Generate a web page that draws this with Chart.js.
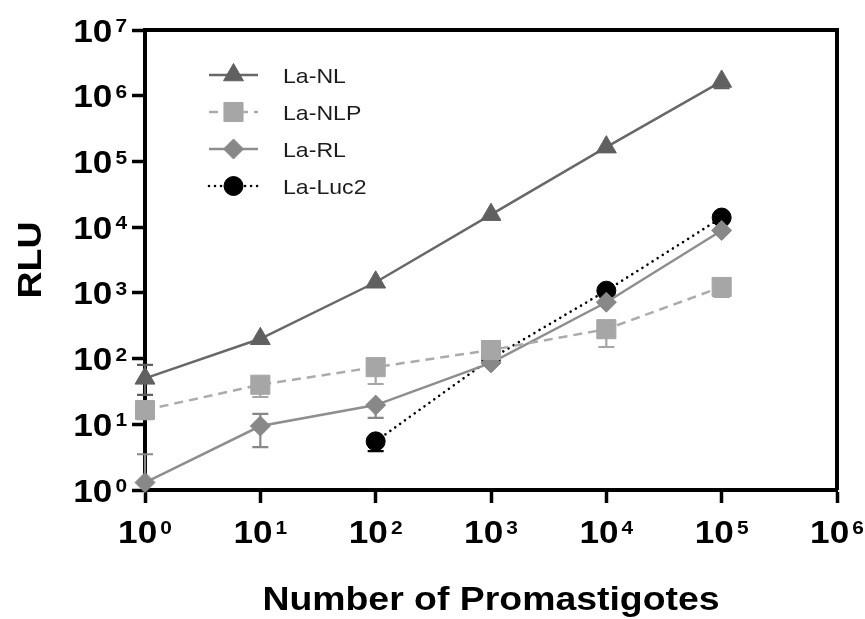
<!DOCTYPE html>
<html>
<head>
<meta charset="utf-8">
<script src="https://cdn.jsdelivr.net/npm/chart.js@4/dist/chart.umd.min.js"></script>
<style>
  html, body { margin: 0; padding: 0; background: #fff; }
  #wrap { width: 865px; height: 619px; position: relative; }
</style>
</head>
<body>
<div id="wrap"><canvas id="c"></canvas></div>
<script>
// promastigote counts on the x axis
const cellCounts = [1, 10, 100, 1000, 10000, 100000];
// mean RLU per series
const nlValues = [50, 200, 1450, 15500, 165000, 1650000];
const nlpValues = [16.5, 40, 74, 135, 280, 1230];
const rlValues = [1.3, 9.4, 19.6, 86, 720, 8900];
const luc2Values = [null, null, 5.5, 100, 1080, 14000];
// visible error bar ends [low, high]
const nlErr = [[28, 80], null, null, null, null, [1300000, null]];
const nlpErr = [[12, 22], [26, null], [41, null], null, [150, null], [870, null]];
const rlErr = [[null, 3.5], [4.5, 14.4], [12.5, null], null, null, null];
const luc2Err = [null, null, [3.9, null], null, null, null];
// tick exponents
const xTickPowers = [0, 1, 2, 3, 4, 5, 6];
const yTickPowers = [0, 1, 2, 3, 4, 5, 6, 7];
const seriesNames = ['La-NL', 'La-NLP', 'La-RL', 'La-Luc2'];

const FONT = '"Liberation Sans", Arial, sans-serif';
const STRETCH = 1.1;

function pts(vals) {
    return cellCounts.map((c, i) => ({ x: c, y: vals[i] }));
}

function stretchedText(ctx, text, x, y, font, align) {
    ctx.save();
    ctx.font = font;
    const w = ctx.measureText(text).width * STRETCH;
    let left = x;
    if (align === 'center') left = x - w / 2;
    if (align === 'right') left = x - w;
    ctx.translate(left, y);
    ctx.scale(STRETCH, 1);
    ctx.textAlign = 'left';
    ctx.fillText(text, 0, 0);
    ctx.restore();
    return w;
}

// "10" with a raised exponent; y is the baseline of the digits
function powerLabel(ctx, exp, x, y, align) {
    const baseFont = 'bold 32px ' + FONT;
    const expFont = 'bold 19px ' + FONT;
    ctx.font = baseFont;
    const wb = ctx.measureText('10').width * STRETCH;
    ctx.font = expFont;
    const we = ctx.measureText(String(exp)).width * STRETCH;
    const total = wb + 3 + we;
    let left = align === 'right' ? x - total : x - total / 2;
    stretchedText(ctx, '10', left, y, baseFont, 'left');
    stretchedText(ctx, String(exp), left + wb + 3, y - 23 + 13.6, expFont, 'left');
}

const errorBars = {
    id: 'errorBars',
    beforeDatasetsDraw(chart) {
        const { ctx, chartArea, scales: { x, y } } = chart;
        ctx.save();
        ctx.beginPath();
        ctx.rect(chartArea.left - 10, chartArea.top, chartArea.right - chartArea.left + 20, chartArea.bottom - chartArea.top);
        ctx.clip();
        chart.data.datasets.forEach(ds => {
            if (!ds.errors) return;
            ctx.strokeStyle = ds.pointBackgroundColor;
            ctx.lineWidth = 2.2;
            ds.errors.forEach((e, j) => {
                if (!e || ds.data[j].y === null) return;
                const px = x.getPixelForValue(ds.data[j].x);
                const py = y.getPixelForValue(ds.data[j].y);
                e.forEach(v => {
                    if (v === null) return;
                    const pe = y.getPixelForValue(v);
                    ctx.beginPath();
                    ctx.moveTo(px, py);
                    ctx.lineTo(px, pe);
                    ctx.moveTo(px - 8, pe);
                    ctx.lineTo(px + 8, pe);
                    ctx.stroke();
                });
            });
        });
        ctx.restore();
    }
};

const frame = {
    id: 'frame',
    beforeDatasetsDraw(chart) {
        const { ctx, chartArea: a } = chart;
        ctx.save();
        ctx.strokeStyle = '#000';
        ctx.lineWidth = 4;
        ctx.beginPath();
        ctx.moveTo(a.left, a.top);
        ctx.lineTo(a.right, a.top);
        ctx.lineTo(a.right, a.bottom);
        ctx.stroke();
        ctx.restore();
    }
};

const labels = {
    id: 'labels',
    afterDraw(chart) {
        const { ctx, chartArea: a, scales: { x, y } } = chart;
        ctx.save();
        ctx.fillStyle = '#000';
        ctx.textBaseline = 'alphabetic';
        yTickPowers.forEach(p => {
            const py = y.getPixelForValue(Math.pow(10, p));
            powerLabel(ctx, p, 127, py + 11.5, 'right');
        });
        xTickPowers.forEach(p => {
            const px = x.getPixelForValue(Math.pow(10, p));
            powerLabel(ctx, p, px, 543, 'center');
        });
        // axis titles
        stretchedText(ctx, 'Number of Promastigotes', (a.left + a.right) / 2, 610, 'bold 34px ' + FONT, 'center');
        ctx.save();
        ctx.translate(41, 260);
        ctx.rotate(-Math.PI / 2);
        stretchedText(ctx, 'RLU', 0, 0, 'bold 34px ' + FONT, 'center');
        ctx.restore();

        // legend
        const rowY = [75, 112, 149, 186];
        chart.data.datasets.forEach((ds, i) => {
            const ly = rowY[i];
            ctx.save();
            ctx.strokeStyle = ds.borderColor;
            ctx.lineWidth = ds.borderWidth;
            ctx.lineCap = ds.borderCapStyle || 'butt';
            ctx.setLineDash(ds.borderDash || []);
            ctx.beginPath();
            ctx.moveTo(209, ly);
            ctx.lineTo(258, ly);
            ctx.stroke();
            ctx.restore();
            ctx.save();
            ctx.fillStyle = ds.pointBackgroundColor;
            ctx.strokeStyle = ds.pointBackgroundColor;
            ctx.lineWidth = 1;
            if (Chart.helpers && Chart.helpers.drawPoint) {
                Chart.helpers.drawPoint(ctx, {
                    pointStyle: ds.pointStyle, radius: ds.pointRadius, rotation: 0, borderWidth: 1
                }, 233.5, ly);
            } else {
                ctx.beginPath();
                ctx.arc(233.5, ly, ds.pointRadius, 0, Math.PI * 2);
                ctx.fill();
            }
            ctx.restore();
            ctx.fillStyle = '#1c1c1c';
            stretchedText(ctx, seriesNames[i], 283, ly + 8, '21px ' + FONT, 'left');
        });
        ctx.restore();
    }
};

function powerTicks(powers) {
    return scale => {
        scale.ticks = powers.map(p => ({ value: Math.pow(10, p) }));
    };
}

const axisGrid = {
    display: true,
    drawOnChartArea: false,
    drawTicks: true,
    tickLength: 13,
    tickWidth: 3.5,
    tickColor: '#000'
};

new Chart(document.getElementById('c'), {
    type: 'line',
    data: {
        datasets: [
            {
                label: seriesNames[0], data: pts(nlValues), errors: nlErr,
                borderColor: '#686868', borderWidth: 2.5,
                pointStyle: 'triangle', pointRadius: 11.5,
                pointBackgroundColor: '#606060', pointBorderColor: '#606060', pointBorderWidth: 1,
                clip: false
            },
            {
                label: seriesNames[1], data: pts(nlpValues), errors: nlpErr,
                borderColor: '#ababab', borderWidth: 2.5, borderDash: [9, 6],
                pointStyle: 'rect', pointRadius: 13.5,
                pointBackgroundColor: '#a6a6a6', pointBorderColor: '#a6a6a6', pointBorderWidth: 1,
                clip: false
            },
            {
                label: seriesNames[2], data: pts(rlValues), errors: rlErr,
                borderColor: '#8e8e8e', borderWidth: 2.5,
                pointStyle: 'rectRot', pointRadius: 10,
                pointBackgroundColor: '#888888', pointBorderColor: '#888888', pointBorderWidth: 1,
                clip: false
            },
            {
                label: seriesNames[3], data: pts(luc2Values), errors: luc2Err,
                borderColor: '#000000', borderWidth: 2.6, borderDash: [0.01, 6], borderCapStyle: 'round',
                pointStyle: 'circle', pointRadius: 9.5,
                pointBackgroundColor: '#000000', pointBorderColor: '#000000', pointBorderWidth: 1,
                clip: false
            }
        ]
    },
    options: {
        responsive: true,
        maintainAspectRatio: false,
        animation: false,
        events: [],
        layout: { padding: { left: 132, right: 28, top: 30, bottom: 116 } },
        plugins: { legend: { display: false }, tooltip: { enabled: false } },
        scales: {
            x: {
                type: 'logarithmic', min: 1, max: 1000000,
                afterBuildTicks: powerTicks(xTickPowers),
                ticks: { display: false },
                grid: axisGrid,
                border: { display: true, color: '#000', width: 4 }
            },
            y: {
                type: 'logarithmic', min: 1, max: 10000000,
                afterBuildTicks: powerTicks(yTickPowers),
                ticks: { display: false },
                grid: axisGrid,
                border: { display: true, color: '#000', width: 4 }
            }
        }
    },
    plugins: [errorBars, frame, labels]
});
</script>
</body>
</html>
